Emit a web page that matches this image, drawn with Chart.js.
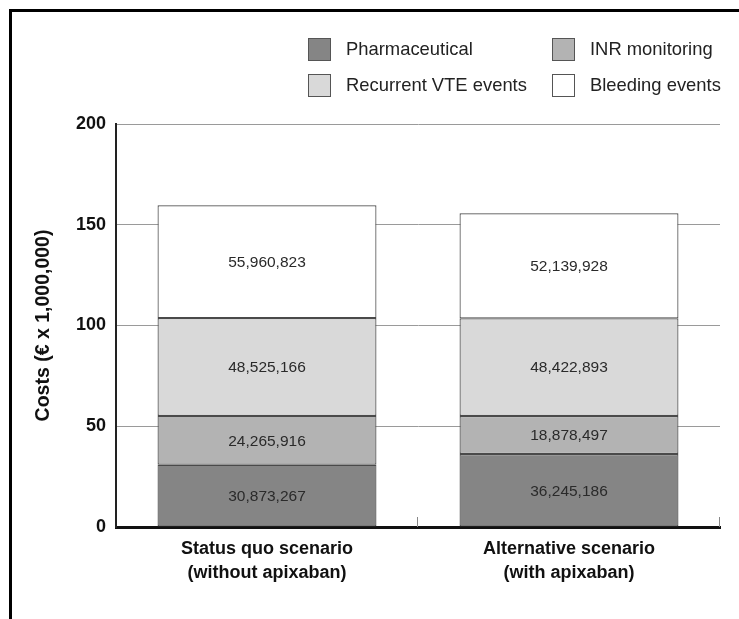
<!DOCTYPE html>
<html>
<head>
<meta charset="utf-8">
<script src="https://cdn.jsdelivr.net/npm/chart.js@4"></script>
<style>
  body { margin: 0; background: #fff; font-family: "Liberation Sans", Arial, sans-serif; }
  #wrap { position: relative; width: 739px; height: 619px; overflow: hidden; }
  #frame { position: absolute; left: 9px; top: 9px; width: 740px; height: 620px;
           border-top: 3px solid #000; border-left: 3px solid #000; }
  #chartBox { position: absolute; left: 0; top: 0; width: 739px; height: 619px; }
  .lg { position: absolute; height: 24px; line-height: 24px; font-size: 18.4px; color: #222; white-space: nowrap; }
  .lg span.box { position: absolute; left: 0; top: 0; width: 21px; height: 21px; border: 1.5px solid #555; }
  .lg span.txt { position: absolute; left: 38px; top: -1px; }
</style>
</head>
<body>
<div id="wrap">
  <div id="frame"></div>
  <div id="chartBox"><canvas id="costChart"></canvas></div>
  <div id="legend"></div>
</div>
<script>
// data, in euros
var scenarios = [["Status quo scenario", "(without apixaban)"], ["Alternative scenario", "(with apixaban)"]];
var costTypes = ["Pharmaceutical", "INR monitoring", "Recurrent VTE events", "Bleeding events"];
var pharmaceutical = [30873267, 36245186];
var inrMonitoring = [24265916, 18878497];
var recurrentVte = [48525166, 48422893];
var bleeding = [55960823, 52139928];
var yTicks = [0, 50, 100, 150, 200];

var fills = ["#858585", "#b3b3b3", "#d9d9d9", "#ffffff"];
var series = [pharmaceutical, inrMonitoring, recurrentVte, bleeding];

// legend, 2 x 2 like the original
var legendPos = [[308, 38], [552, 38], [308, 74], [552, 74]];
var legend = document.getElementById('legend');
costTypes.forEach(function(name, i){
    var d = document.createElement('div');
    d.className = 'lg';
    d.style.left = legendPos[i][0] + 'px';
    d.style.top = legendPos[i][1] + 'px';
    d.innerHTML = '<span class="box" style="background:' + fills[i] + '"></span><span class="txt">' + name + '</span>';
    legend.appendChild(d);
});

var datasets = series.map(function(vals, i){
    return {
        label: costTypes[i],
        data: vals.map(function(v){ return v / 1000000; }),
        raw: vals,
        backgroundColor: fills[i],
        borderColor: "#4a4a4a",
        borderWidth: 1.2,
        borderSkipped: false,
        barPercentage: 0.725,
        categoryPercentage: 1
    };
});

// numbers in the middle of each segment
var segmentLabels = {
    id: 'segmentLabels',
    afterDatasetsDraw: function(chart){
        var ctx = chart.ctx;
        ctx.save();
        ctx.font = '15.5px "Liberation Sans", Arial, sans-serif';
        ctx.fillStyle = '#2a2a2a';
        ctx.textAlign = 'center';
        ctx.textBaseline = 'middle';
        chart.data.datasets.forEach(function(ds, i){
            chart.getDatasetMeta(i).data.forEach(function(bar, j){
                var p = bar.getCenterPoint();
                ctx.fillText(ds.raw[j].toLocaleString('en-US'), p.x, p.y + 1);
            });
        });
        ctx.restore();
    }
};

// small upward ticks between the categories on the x axis
var xTicks = {
    id: 'xTicks',
    afterDraw: function(chart){
        var x = chart.scales.x, ctx = chart.ctx;
        var half = (x.getPixelForValue(1) - x.getPixelForValue(0)) / 2;
        ctx.save();
        ctx.strokeStyle = '#888';
        ctx.lineWidth = 1;
        for (var i = 0; i < scenarios.length; i++) {
            var px = Math.round(x.getPixelForValue(i) + half) - 0.5;
            ctx.beginPath();
            ctx.moveTo(px, x.top);
            ctx.lineTo(px, x.top - 10);
            ctx.stroke();
        }
        ctx.restore();
    }
};

var ctx = document.getElementById("costChart");
var costChart = new Chart(ctx, {
    type: 'bar',
    data: { labels: scenarios, datasets: datasets },
    plugins: [segmentLabels, xTicks],
    options: {
        responsive: true,
        maintainAspectRatio: false,
        animation: false,
        layout: { padding: { left: 28, top: 124, right: 19, bottom: 0 } },
        plugins: { legend: { display: false }, tooltip: { enabled: false } },
        scales: {
            x: {
                stacked: true,
                grid: { display: false, drawTicks: false },
                border: { display: true, color: '#111', width: 3 },
                ticks: {
                    color: '#111',
                    padding: 10,
                    font: { family: '"Liberation Sans", Arial, sans-serif', size: 18, weight: 'bold', lineHeight: 1.35 }
                },
                afterFit: function(s){ s.height = 92; }
            },
            y: {
                stacked: true,
                min: 0,
                max: 200,
                afterBuildTicks: function(s){ s.ticks = yTicks.map(function(v){ return { value: v }; }); },
                grid: { color: '#9a9a9a', lineWidth: 1, drawTicks: false },
                border: { display: true, color: '#222', width: 2 },
                ticks: {
                    color: '#111',
                    padding: 10,
                    font: { family: '"Liberation Sans", Arial, sans-serif', size: 18, weight: 'bold' }
                },
                title: {
                    display: true,
                    text: 'Costs (€ x 1,000,000)',
                    color: '#111',
                    padding: 4,
                    font: { family: '"Liberation Sans", Arial, sans-serif', size: 19.5, weight: 'bold' }
                },
                afterFit: function(s){ s.width = 88; }
            }
        }
    }
});
</script>
</body>
</html>
